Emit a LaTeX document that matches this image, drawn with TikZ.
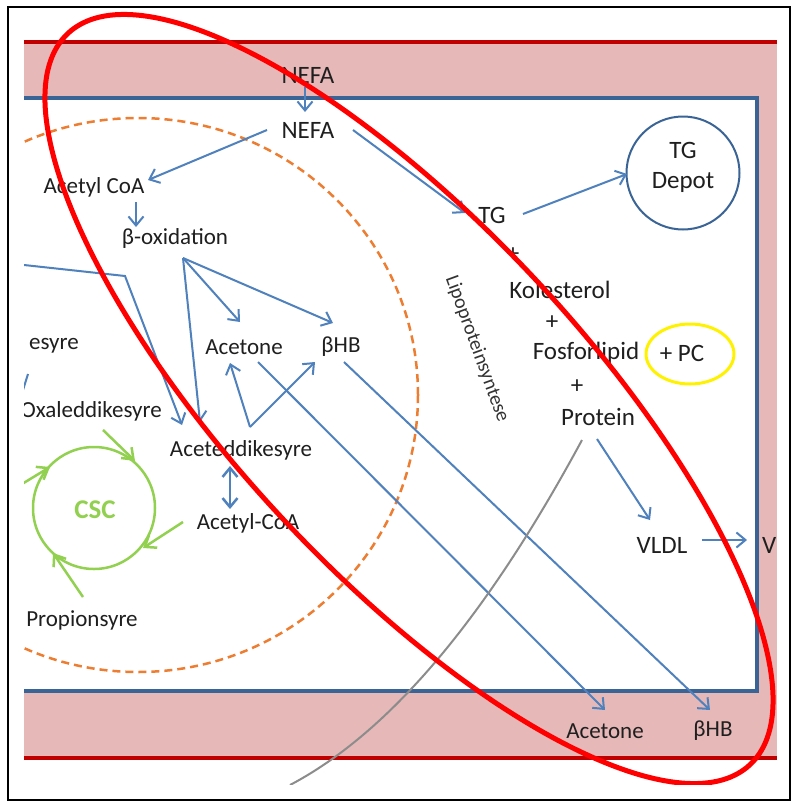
\documentclass[tikz,border=0pt]{standalone}
\usepackage{fontspec}
\setmainfont{Carlito}
\usetikzlibrary{arrows.meta}
\definecolor{pinkbg}{HTML}{E6B9B8}
\definecolor{darkred}{HTML}{C00000}
\definecolor{frameblue}{HTML}{3B6496}
\definecolor{arrowblue}{HTML}{4F81BD}
\definecolor{cscgreen}{HTML}{92D050}
\definecolor{orangedash}{HTML}{ED7D31}
\definecolor{txt}{HTML}{1F1F1F}
\definecolor{txtgray}{HTML}{333333}
\definecolor{curvegray}{HTML}{8C8C8C}
\begin{document}
\begin{tikzpicture}[x=1pt,y=-1pt,
  lbl/.style={text=txt,font=\fontsize{25}{28}\selectfont,inner sep=0pt},
  slbl/.style={text=txt,font=\fontsize{23}{26}\selectfont,inner sep=0pt},
  barrow/.style={draw=arrowblue,line width=2pt,-{Straight Barb[length=9pt,width=15pt]}},
  bdarrow/.style={draw=arrowblue,line width=2.5pt,{Straight Barb[length=9pt,width=15pt]}-{Straight Barb[length=9pt,width=15pt]}},
  bline/.style={draw=arrowblue,line width=2pt},
  garrow/.style={draw=cscgreen,line width=2.5pt,-{Straight Barb[length=10pt,width=15pt]}},
]
\useasboundingbox (0,0) rectangle (795,803);
\fill[white] (0,0) rectangle (795,803);
\draw[black,line width=2pt] (8,7) rectangle (790,800);
% blood band
\fill[pinkbg] (24,42) rectangle (777,758);
\draw[darkred,line width=4pt] (24,42) -- (777,42);
\draw[darkred,line width=4pt] (24,758) -- (777,758);
% cell
\fill[white] (24,98) rectangle (757,691);
\draw[frameblue,line width=3.5pt] (24,98) -- (757,98) -- (757,691) -- (24,691);

\begin{scope}
\clip (24,8) rectangle (790,784);
% mitochondrion
\draw[orangedash,line width=2.5pt,dash pattern=on 8pt off 5pt] (138,395) ellipse [x radius=280pt, y radius=277pt];

% labels
\node[lbl] (nefa1) at (308,75) {NEFA};
\node[lbl] (nefa2) at (308,130) {NEFA};
\node[slbl] (acoa) at (94,187) {Acetyl CoA};
\node[slbl] (box) at (175,238) {β-oxidation};
\node[slbl] (acet1) at (244,347) {Acetone};
\node[slbl] (bhb1) at (341,347) {βHB};
\node[slbl,anchor=east] (esy) at (79,346) {esyre};
\node[slbl,anchor=east] (oxa) at (162,411) {Oxaleddikesyre};
\node[slbl] (aced) at (241,450) {Aceteddikesyre};
\node[slbl] (acoa2) at (248,523) {Acetyl-CoA};
\node[text=cscgreen,font=\fontsize{27}{30}\selectfont\bfseries,inner sep=0pt] (csc) at (95,510) {CSC};
\node[slbl] (prop) at (82,620) {Propionsyre};
\node[lbl] (tg) at (492,215) {TG};
\node[draw=frameblue,line width=2pt,circle,minimum size=113pt,inner sep=0pt] (depot) at (683,173) {};
\node[lbl] (depot1) at (683,150) {TG};
\node[lbl] (depot2) at (683,182) {Depot};
\node[lbl] (plus1) at (513,255) {+};
\node[lbl] (kol) at (560,290) {Kolesterol};
\node[lbl] (plus2) at (552,323) {+};
\node[lbl] (fos) at (586,353) {Fosforlipid};
\node[lbl] (pc) at (682,353) {+ PC};
\node[lbl] (plus3) at (577,387) {+};
\node[lbl] (prot) at (598,417) {Protein};
\node[lbl] (vldl) at (662,545) {VLDL};
\node[lbl,anchor=west] (v) at (762,545) {V};
\node[slbl] (acet2) at (605,731) {Acetone};
\node[slbl] (bhb2) at (713,731) {βHB};
\node[text=txtgray,font=\fontsize{20}{22}\selectfont,inner sep=0pt,rotate=-70] (lps) at (477,349) {Lipoproteinsyntese};

% connector points
\coordinate (n1b) at (305,87);
\coordinate (n2t) at (305,112);
\coordinate (n2l) at (267,130);
\coordinate (acoat) at (148,180);
\coordinate (acoab) at (136,202);
\coordinate (boxt) at (136,227);
\coordinate (boxb) at (183,258);
\coordinate (acet1t) at (240,322);
\coordinate (bhb1t) at (333,323);
\coordinate (acedt1) at (200,422);
\coordinate (lin0) at (24,265);
\coordinate (lin1) at (125,276);
\coordinate (acedt2) at (182,425);
\coordinate (acedv) at (250,427);
\coordinate (acet1b) at (230,363);
\coordinate (bhb1b) at (315,362);
\coordinate (acet1s) at (258,362);
\coordinate (bhb1s) at (344,362);
\coordinate (acet2t) at (605,710);
\coordinate (bhb2t) at (710,710);
\coordinate (acedb) at (230,466);
\coordinate (acoa2t) at (230,509);
\coordinate (n2r) at (353,130);
\coordinate (tgl) at (465,213);
\coordinate (tgr) at (523,214);
\coordinate (depl) at (627,174);
\coordinate (protb) at (597,439);
\coordinate (vldlt) at (650,520);
\coordinate (vldlr) at (702,540);
\coordinate (vt) at (747,540);
\coordinate (pg) at (582,440);
\coordinate (pgend) at (290,785);
\coordinate (esyb1) at (28,374);
\coordinate (esyb2) at (23,390);
\coordinate (oxab) at (103,430);
\coordinate (cscA) at (135,461);
\coordinate (gl0) at (22,484);
\coordinate (cscB) at (50,467);
\coordinate (acoa2l) at (183,522);
\coordinate (cscC) at (143,548);
\coordinate (propt) at (83,597);
\coordinate (cscD) at (53,553);

% blue connectors
\draw[barrow] (n1b) -- (n2t);
\draw[barrow] (n2l) -- (acoat);
\draw[barrow] (acoab) -- (boxt);
\draw[barrow] (boxb) -- (acet1t);
\draw[barrow] (boxb) -- (bhb1t);
\draw[barrow] (boxb) -- (acedt1);
\draw[barrow] (lin0) -- (lin1) -- (acedt2);
\draw[barrow] (acedv) -- (acet1b);
\draw[barrow] (acedv) -- (bhb1b);
\draw[barrow] (acet1s) -- (acet2t);
\draw[barrow] (bhb1s) -- (bhb2t);
\draw[bdarrow] (acedb) -- (acoa2t);
\draw[barrow] (n2r) -- (tgl);
\draw[barrow] (tgr) -- (depl);
\draw[barrow] (protb) -- (vldlt);
\draw[barrow] (vldlr) -- (vt);
\draw[bline] (esyb1) -- (esyb2);

% citric acid cycle
\draw[cscgreen,line width=2.5pt] (94,508) circle [radius=61pt];
\draw[garrow] (oxab) -- (cscA);
\draw[garrow] (gl0) -- (cscB);
\draw[garrow] (acoa2l) -- (cscC);
\draw[garrow] (propt) -- (cscD);

% gray curve
\draw[curvegray,line width=2pt] (pg) .. controls (501,590) and (404,725) .. (pgend);

% highlights
\draw[yellow,line width=3pt] (690,354) ellipse [x radius=44pt, y radius=30pt];
\draw[red,line width=5pt,rotate around={-47:(409,399)}] (409,399) ellipse [x radius=500pt, y radius=174pt];
\end{scope}
\end{tikzpicture}
\end{document}
